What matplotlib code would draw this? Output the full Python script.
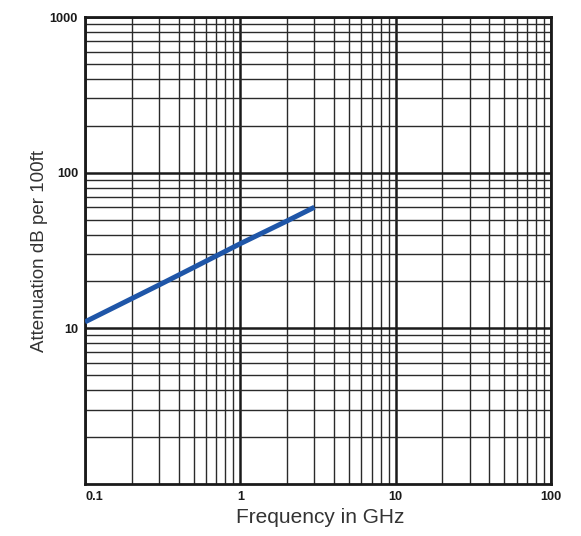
import matplotlib
matplotlib.use("Agg")
import matplotlib.pyplot as plt
from matplotlib.ticker import FixedLocator, NullFormatter

freq_ghz = [0.1, 0.3, 0.5, 1.0, 2.0, 3.0]
atten_db = [11.0, 19.0, 24.6, 35.0, 49.0, 60.0]

x_ticks = [0.1, 1, 10, 100]
x_tick_labels = ["0.1", "1", "10", "100"]
y_ticks = [10, 100, 1000]
y_tick_labels = ["10", "100", "1000"]

plt.rcParams['font.family'] = ['Liberation Sans', 'DejaVu Sans']

fig = plt.figure(figsize=(5.81, 5.36), dpi=100)
ax = fig.add_axes([85/581, 1-484/536, 466/581, 467/536])
ax.set_xscale('log')
ax.set_yscale('log')
ax.set_xlim(0.1, 100)
ax.set_ylim(1, 1000)

ax.xaxis.set_major_locator(FixedLocator(x_ticks))
ax.yaxis.set_major_locator(FixedLocator(y_ticks))
minor_x = [m * 10**e for e in (-1, 0, 1) for m in range(2, 10)]
minor_y = [m * 10**e for e in (0, 1, 2) for m in range(2, 10)]
ax.xaxis.set_minor_locator(FixedLocator(minor_x))
ax.yaxis.set_minor_locator(FixedLocator(minor_y))
ax.xaxis.set_minor_formatter(NullFormatter())
ax.yaxis.set_minor_formatter(NullFormatter())
ax.set_xticklabels(x_tick_labels, fontsize=9.2, fontweight='bold', color='#1a1a1a')
ax.set_yticklabels(y_tick_labels, fontsize=9.2, fontweight='bold', color='#1a1a1a')
labs = ax.get_xticklabels()
labs[0].set_horizontalalignment('left')

ax.tick_params(which='both', length=0)
ax.tick_params(axis='x', pad=5)
ax.tick_params(axis='y', pad=5)

ax.grid(which='major', color='#1a1a1a', linewidth=1.8)
ax.grid(which='minor', color='#2a2a2a', linewidth=1.0)
for s in ax.spines.values():
    s.set_linewidth(2.0)
    s.set_color('#1a1a1a')

ax.plot(freq_ghz, atten_db, color='#1f56a8', linewidth=3.6, solid_capstyle='butt', zorder=5)

ax.set_xlabel("Frequency in GHz", fontsize=15, color='#333333')
ax.set_ylabel("Attenuation dB per 100ft", fontsize=13.5, color='#333333')
ax.xaxis.set_label_coords(0.505, -0.051)
ax.yaxis.set_label_coords(-0.079, 0.5)

fig.savefig("out.png", dpi=100)
